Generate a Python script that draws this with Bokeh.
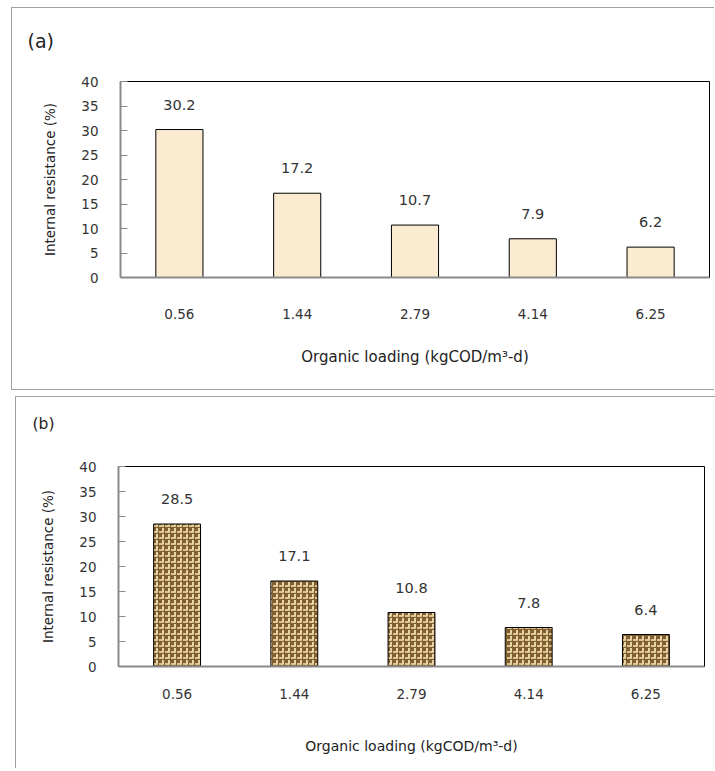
from bokeh.plotting import figure
from bokeh.models import ColumnDataSource, FixedTicker, LinearAxis, Title
from bokeh.layouts import column
from bokeh.embed import file_html
from bokeh.resources import INLINE
from bokeh.core.properties import value

# ---- data ----
loadings = ["0.56", "1.44", "2.79", "4.14", "6.25"]
resistance_a = [30.2, 17.2, 10.7, 7.9, 6.2]
resistance_b = [28.5, 17.1, 10.8, 7.8, 6.4]
y_ticks = [0, 5, 10, 15, 20, 25, 30, 35, 40]
panel_labels = ["(a)", "(b)"]
x_title = "Organic loading (kgCOD/m\u00b3-d)"
y_title = "Internal resistance (%)"

FONT = "DejaVu Sans"
TXT = "#333333"
AXC = "#8a8a8a"
GRAD = "linear-gradient(#a0a0a0,#a0a0a0)"


def make_panel(vals, label, frame, borders, bar_layers, title_cfg,
               xstand, xt_size, styles):
    src = ColumnDataSource(dict(x=loadings, v=vals, lbl=[f"{v:.1f}" for v in vals]))
    left, right, top, bottom = borders
    p = figure(x_range=loadings, y_range=(0, 40), frame_width=frame[0], frame_height=frame[1],
               output_backend="svg", toolbar_location=None,
               min_border_left=left, min_border_right=right,
               min_border_top=top, min_border_bottom=bottom)
    ya = p.yaxis[0]
    xa = p.xaxis[0]
    for i, st in enumerate(bar_layers):
        p.vbar(x="x", top="v", width=0.4, source=src,
               line_color="black" if i == len(bar_layers) - 1 else None, line_width=1, **st)
    p.text(x="x", y="v", text="lbl", y_offset=-25, text_align="center", text_baseline="middle",
           text_font=value(FONT), text_font_size="14.5px", text_color=TXT, source=src)
    p.xgrid.visible = False
    p.ygrid.visible = False
    p.outline_line_color = None
    p.background_fill_color = "white"
    p.border_fill_color = None

    # black top / right frame lines (axes without ticks or labels)
    ra = LinearAxis(ticker=FixedTicker(ticks=[]), major_tick_line_color=None,
                    minor_tick_line_color=None, major_tick_out=0, major_tick_in=0,
                    minor_tick_out=0, minor_tick_in=0,
                    major_label_standoff=0, axis_line_color="black", axis_line_width=1)
    p.add_layout(ra, "right")
    ta = LinearAxis(ticker=FixedTicker(ticks=[]), major_tick_line_color=None,
                    minor_tick_line_color=None, major_tick_out=0, major_tick_in=0,
                    minor_tick_out=0, minor_tick_in=0,
                    major_label_standoff=0, axis_line_color="black", axis_line_width=1)
    p.add_layout(ta, "above")

    p.title = Title(text=label + "\n", align="left", offset=title_cfg[0],
                    text_line_height=title_cfg[1],
                    text_font=FONT, text_font_size=title_cfg[2], text_font_style="normal",
                    text_color="#222222")

    ya.ticker = FixedTicker(ticks=y_ticks)
    ya.major_tick_in = 7
    ya.major_tick_out = 0
    ya.minor_tick_out = 0
    ya.minor_tick_line_color = None
    ya.major_tick_line_color = AXC
    ya.major_tick_line_width = 1
    ya.axis_line_color = AXC
    ya.axis_line_width = 2
    ya.major_label_standoff = 22
    ya.major_label_text_font = FONT
    ya.major_label_text_font_size = "13.5px"
    ya.major_label_text_color = TXT
    ya.axis_label = y_title
    ya.axis_label_text_font = FONT
    ya.axis_label_text_font_size = "13.5px"
    ya.axis_label_text_font_style = "normal"
    ya.axis_label_text_color = "#222222"
    ya.axis_label_standoff = 20

    xa.major_tick_line_color = None
    xa.minor_tick_line_color = None
    xa.axis_line_color = AXC
    xa.axis_line_width = 2
    xa.major_label_standoff = xstand[0]
    xa.major_label_text_font = FONT
    xa.major_label_text_font_size = "13.5px"
    xa.major_label_text_color = TXT
    xa.axis_label = x_title
    xa.axis_label_text_font = FONT
    xa.axis_label_text_font_size = xt_size
    xa.axis_label_text_font_style = "normal"
    xa.axis_label_text_color = "#222222"
    xa.axis_label_standoff = xstand[1]
    p.styles = styles
    return p


pa = make_panel(resistance_a, panel_labels[0], (589, 196), (109, 5, 74, 113),
                [dict(fill_color="#FBEBD0")], (-93, 1.1, "19px"), (25, 26), "15px",
                {"background": f"{GRAD} 0 0/1px 100% no-repeat, {GRAD} 0 0/100% 1px no-repeat, "
                               f"{GRAD} 0 100%/100% 1px no-repeat, white"})
pa.margin = (7, 0, 0, 11)

burlap = [
    dict(fill_color="#806032", hatch_pattern="horizontal_dash", hatch_color="#DCC48E",
         hatch_scale=6, hatch_weight=2),
    dict(fill_color=None, hatch_pattern="vertical_dash", hatch_color="#E8D4A4",
         hatch_scale=6, hatch_weight=2),
]
pb = make_panel(resistance_b, panel_labels[1], (586, 200), (109, 11, 70, 102),
                burlap, (-86, 1.6, "15.5px"), (16, 36), "14px",
                {"background": f"{GRAD} 6px 0/1px 100% no-repeat, {GRAD} 6px 0/100% 1px no-repeat, white"})
pb.margin = (0, 0, 0, 9)

layout = column(pa, pb, spacing=6)
open("out.html", "w").write(file_html(layout, INLINE))
